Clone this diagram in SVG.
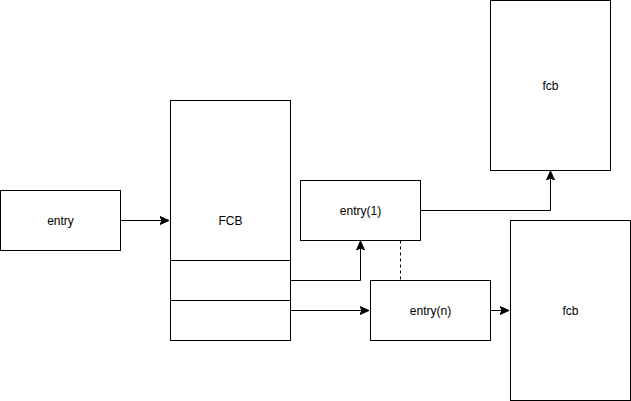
<svg xmlns="http://www.w3.org/2000/svg" width="631" height="401" viewBox="0 0 631 401">
<style>
.box{fill:#fff;stroke:#000;stroke-width:1}
.lbl{font-family:"Liberation Sans",Arial,sans-serif;font-size:12px;fill:#000;text-anchor:middle;dominant-baseline:central}
.edge{fill:none;stroke:#000;stroke-width:1}
.dash{fill:none;stroke:#000;stroke-width:1;stroke-dasharray:3 3}
</style>
<defs>
<marker id="arr" viewBox="0 0 10 10" refX="9" refY="5" markerWidth="10" markerHeight="10" markerUnits="userSpaceOnUse" orient="auto">
<path d="M0,1 L9,5 L0,9 L2,5 Z" fill="#000" stroke="#000" stroke-width="1"/>
</marker>
</defs>
<rect width="631" height="401" fill="#fff"/>
<g id="connectors">
<path class="edge" d="M120.5,220.5 L169,220.5" marker-end="url(#arr)"/>
<path class="edge" d="M290.5,280.5 L360.5,280.5 L360.5,241" marker-end="url(#arr)"/>
<path class="edge" d="M290.5,310.5 L369,310.5" marker-end="url(#arr)"/>
<path class="edge" d="M420.5,210.5 L550.5,210.5 L550.5,171" marker-end="url(#arr)"/>
<path class="edge" d="M490.5,310.5 L509,310.5" marker-end="url(#arr)"/>
<path class="dash" d="M400.5,240.5 L400.5,280.5"/>
</g>
<g id="entry">
<rect class="box" x="0.5" y="190.5" width="120" height="60"/>
<text class="lbl" x="60.5" y="220.5">entry</text>
</g>
<g id="FCB">
<rect class="box" x="170.5" y="100.5" width="120" height="240"/>
<line class="edge" x1="170.5" y1="260.5" x2="290.5" y2="260.5"/>
<line class="edge" x1="170.5" y1="300.5" x2="290.5" y2="300.5"/>
<text class="lbl" x="230.5" y="220.5">FCB</text>
</g>
<g id="entry1">
<rect class="box" x="300.5" y="180.5" width="120" height="60"/>
<text class="lbl" x="360.5" y="210.5">entry(1)</text>
</g>
<g id="entryn">
<rect class="box" x="370.5" y="280.5" width="120" height="60"/>
<text class="lbl" x="430.5" y="310.5">entry(n)</text>
</g>
<g id="fcb1">
<rect class="box" x="490.5" y="0.5" width="120" height="170"/>
<text class="lbl" x="550.5" y="85.5">fcb</text>
</g>
<g id="fcb2">
<rect class="box" x="510.5" y="220.5" width="120" height="180"/>
<text class="lbl" x="570.5" y="310.5">fcb</text>
</g>
</svg>
